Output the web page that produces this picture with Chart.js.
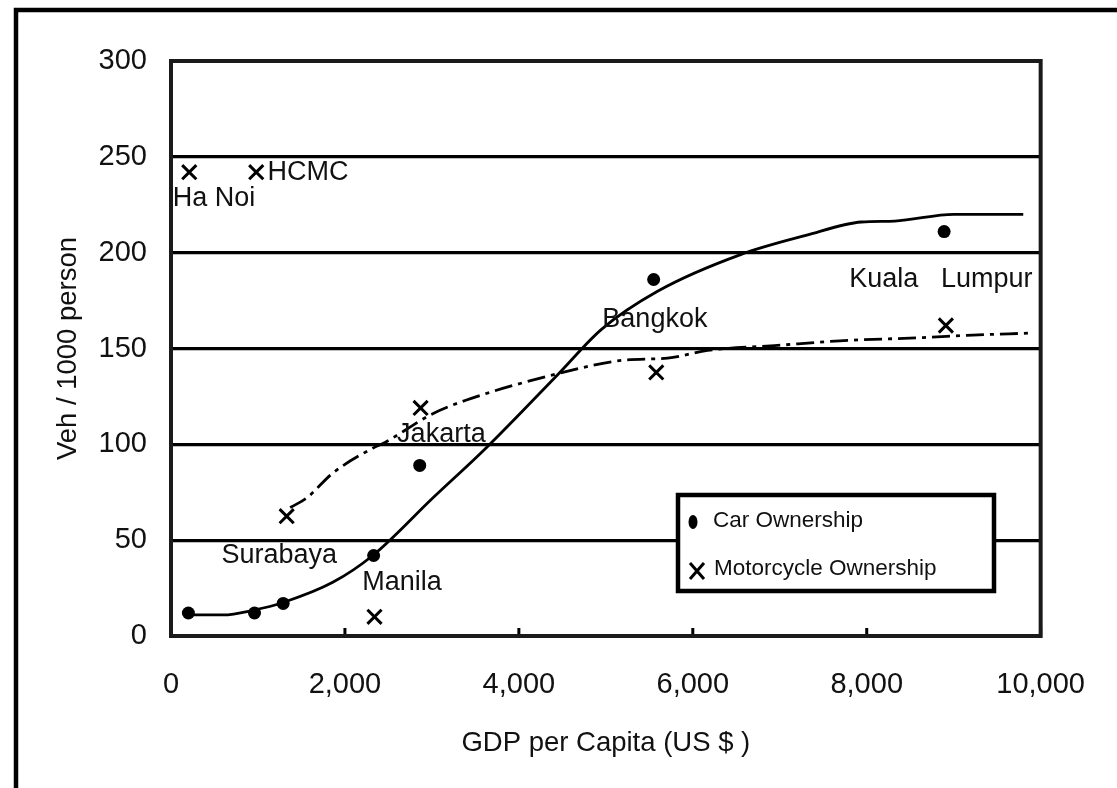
<!DOCTYPE html>
<html><head><meta charset="utf-8">
<script src="https://cdn.jsdelivr.net/npm/chart.js@4.4.1/dist/chart.umd.min.js"></script>
<style>html,body{margin:0;padding:0;background:#fff;} #wrap{width:1117px;height:788px;}</style>
</head><body><div id="wrap"><canvas id="c" width="1117" height="788"></canvas></div>
<script>
// ---- data ----
const cities = ['Ha Noi', 'HCMC', 'Surabaya', 'Manila', 'Jakarta', 'Bangkok', 'Kuala Lumpur'];
const gdpCar = [200, 960, 1290, 2330, 2860, 5550, 8890];
const carOwnership = [12, 12, 17, 42, 89, 186, 211];
const gdpMoto = [210, 980, 1330, 2340, 2870, 5580, 8910];
const motoOwnership = [242, 242, 62.5, 10, 119, 137.5, 162];

const carFitX = [150, 600, 950, 1290, 1860, 2320, 3010, 3620, 4460, 4950, 5600, 6550, 7300, 7940, 8320, 9000, 9800];
const carFitY = [11, 11, 13.5, 17.5, 28, 42, 72, 98, 137, 160, 180, 199, 209, 216, 216.5, 220, 220];
const motoFitX = [1370, 1560, 1860, 2320, 2460, 3010, 3390, 4460, 5220, 5710, 6170, 6940, 7690, 8650, 9220, 9860];
const motoFitY = [67, 72, 85, 98, 101, 116, 123, 137, 144, 145, 149, 151.5, 154, 155.7, 157, 158];

const cityLabelText = ['Ha Noi', 'HCMC', 'Surabaya', 'Manila', 'Jakarta', 'Bangkok', 'Kuala   Lumpur'];
const cityLabelX = [20, 1110, 580, 2200, 2600, 4960, 7800];
const cityLabelY = [228, 242, 42, 28, 105, 165, 186];

const xTickValues = [0, 2000, 4000, 6000, 8000, 10000];
const yTickValues = [0, 50, 100, 150, 200, 250, 300];
const seriesNames = ['Car Ownership', 'Motorcycle Ownership'];

// ---- build ----
const toPts = (xs, ys) => xs.map((v, i) => ({x: v, y: ys[i]}));
const FONT = '"Liberation Sans", Arial, sans-serif';

const deco = {
  id: 'deco',
  beforeDraw(chart) {
    const ctx = chart.ctx;
    ctx.save();
    ctx.fillStyle = '#fff';
    ctx.fillRect(0, 0, chart.width, chart.height);
    ctx.strokeStyle = '#000';
    ctx.lineWidth = 4.5;
    ctx.beginPath();
    ctx.moveTo(16, chart.height + 5);
    ctx.lineTo(16, 10);
    ctx.lineTo(chart.width + 5, 10);
    ctx.stroke();
    ctx.restore();
  },
  afterDraw(chart) {
    const {ctx, chartArea: a, scales: {x, y}} = chart;
    ctx.save();
    // inward ticks on x axis
    ctx.strokeStyle = '#000';
    ctx.lineWidth = 3;
    x.ticks.forEach(t => {
      const px = x.getPixelForValue(t.value);
      ctx.beginPath(); ctx.moveTo(px, a.bottom); ctx.lineTo(px, a.bottom - 8); ctx.stroke();
    });
    // plot frame
    ctx.strokeStyle = '#1a1a1a';
    ctx.lineWidth = 4;
    ctx.strokeRect(a.left, a.top, a.right - a.left, a.bottom - a.top);
    // city labels
    ctx.font = '27px ' + FONT;
    ctx.fillStyle = '#111';
    ctx.textAlign = 'left';
    ctx.textBaseline = 'middle';
    cityLabelText.forEach((t, i) => ctx.fillText(t, x.getPixelForValue(cityLabelX[i]), y.getPixelForValue(cityLabelY[i])));
    // legend box
    const L = 678, T = 495, R = 994, B = 591;
    ctx.fillStyle = '#fff';
    ctx.fillRect(L, T, R - L, B - T);
    ctx.strokeStyle = '#000';
    ctx.lineWidth = 4.5;
    ctx.strokeRect(L, T, R - L, B - T);
    // entries
    ctx.fillStyle = '#000';
    ctx.beginPath(); ctx.ellipse(693, 522, 4.5, 7, 0, 0, Math.PI * 2); ctx.fill();
    ctx.lineWidth = 3;
    ctx.beginPath();
    ctx.moveTo(690, 563); ctx.lineTo(704, 579);
    ctx.moveTo(704, 563); ctx.lineTo(690, 579);
    ctx.stroke();
    ctx.font = '22.5px ' + FONT;
    ctx.fillStyle = '#111';
    ctx.textBaseline = 'middle';
    ctx.fillText(seriesNames[0], 713, 521);
    ctx.fillText(seriesNames[1], 714, 569);
    ctx.restore();
  }
};

new Chart(document.getElementById('c'), {
  type: 'scatter',
  data: {
    datasets: [
      {label: seriesNames[0], data: toPts(gdpCar, carOwnership), pointStyle: 'circle', pointRadius: 6.5,
        backgroundColor: '#000', borderColor: '#000', borderWidth: 0, showLine: false, order: 0},
      {label: seriesNames[1], data: toPts(gdpMoto, motoOwnership), pointStyle: 'crossRot', pointRadius: 10,
        backgroundColor: '#000', borderColor: '#000', borderWidth: 3, showLine: false, order: 0},
      {label: 'car fit', data: toPts(carFitX, carFitY), showLine: true, pointRadius: 0, borderColor: '#000',
        borderWidth: 2.8, cubicInterpolationMode: 'monotone', fill: false, order: 1},
      {label: 'moto fit', data: toPts(motoFitX, motoFitY), showLine: true, pointRadius: 0, borderColor: '#000',
        borderWidth: 2.8, borderDash: [18, 6, 4, 6], cubicInterpolationMode: 'monotone', fill: false, order: 1}
    ]
  },
  options: {
    responsive: false,
    animation: false,
    devicePixelRatio: 1,
    layout: {padding: {left: 0, top: 61, right: 73, bottom: 0}},
    plugins: {legend: {display: false}, tooltip: {enabled: false}},
    scales: {
      x: {
        type: 'linear', min: 0, max: 10000,
        afterBuildTicks: s => { s.ticks = xTickValues.map(v => ({value: v})); },
        afterFit: s => { s.height = 152; },
        grid: {display: false, drawTicks: false},
        border: {display: false},
        ticks: {color: '#111', font: {family: FONT, size: 29}, padding: 32, maxRotation: 0,
          callback: v => v.toLocaleString('en-US')},
        title: {display: true, text: 'GDP per Capita (US $ )', color: '#111', font: {family: FONT, size: 27.5},
          padding: {top: 0, bottom: 28}}
      },
      y: {
        type: 'linear', min: 0, max: 300,
        afterBuildTicks: s => { s.ticks = yTickValues.map(v => ({value: v})); },
        afterFit: s => { s.width = 171; },
        grid: {color: '#000', lineWidth: 3.3, drawTicks: false},
        border: {display: false},
        ticks: {color: '#111', font: {family: FONT, size: 29}, padding: 24},
        title: {display: true, text: 'Veh / 1000 person', color: '#111', font: {family: FONT, size: 27.5},
          padding: {top: 52, bottom: 0}}
      }
    }
  },
  plugins: [deco]
});
</script>
</body></html>
